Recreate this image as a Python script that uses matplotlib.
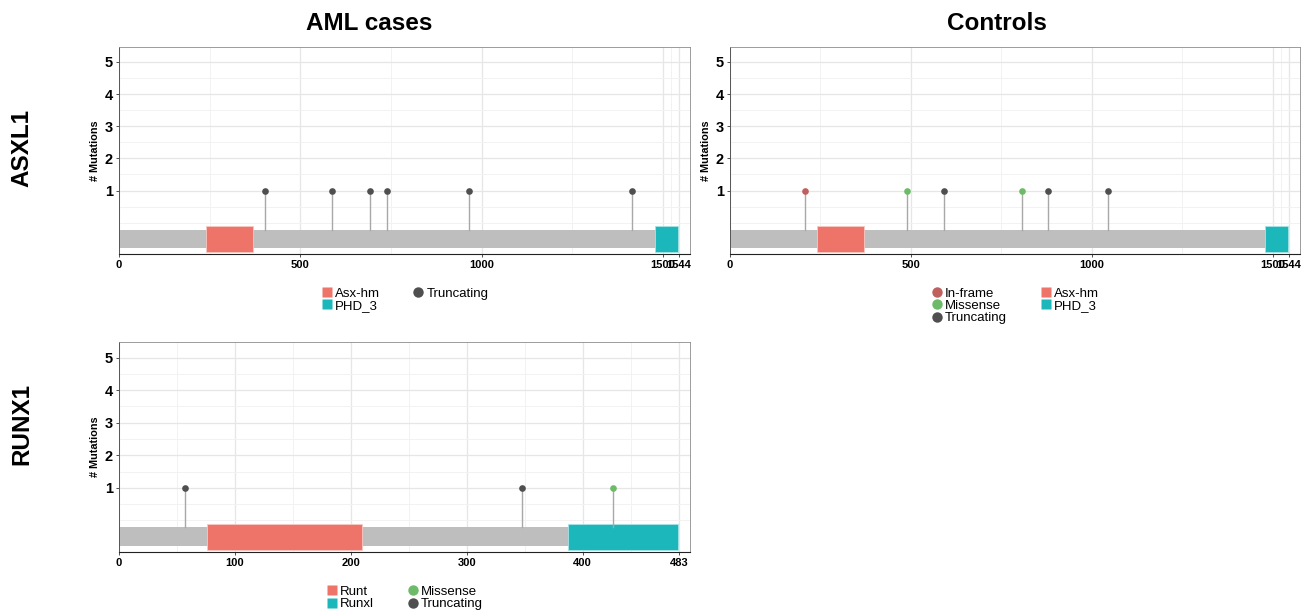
import matplotlib
matplotlib.use("Agg")
import matplotlib.pyplot as plt
from matplotlib.lines import Line2D
from matplotlib.patches import Rectangle

plt.rcParams['font.family'] = ['Liberation Sans', 'DejaVu Sans']

# ---- data ----
asxl1_length = 1544
asxl1_ticks = [0, 500, 1000, 1500, 1544]
asxl1_domains = ["Asx-hm", "PHD_3"]
asxl1_domain_start = [240, 1478]
asxl1_domain_end = [369, 1541]

aml_asxl1_pos = [403, 588, 693, 739, 964, 1415]
aml_asxl1_count = [1, 1, 1, 1, 1, 1]
aml_asxl1_type = ["Truncating"] * 6

ctrl_asxl1_pos = [208, 490, 592, 808, 879, 1045]
ctrl_asxl1_count = [1, 1, 1, 1, 1, 1]
ctrl_asxl1_type = ["In-frame", "Missense", "Truncating", "Missense", "Truncating", "Truncating"]

runx1_length = 483
runx1_ticks = [0, 100, 200, 300, 400, 483]
runx1_domains = ["Runt", "Runxl"]
runx1_domain_start = [76, 387]
runx1_domain_end = [210, 482]

aml_runx1_pos = [57, 348, 426]
aml_runx1_count = [1, 1, 1]
aml_runx1_type = ["Truncating", "Truncating", "Missense"]

y_ticks = [1, 2, 3, 4, 5]

# ---- styles ----
mut_colors = {"In-frame": "#C0605E", "Missense": "#6DBB69", "Truncating": "#4F4F4F"}
domain_colors = ["#EE7369", "#1CB7BA"]
W, H = 1304, 613


def ax_rect(x0, x1, y0, y1):
    return [x0 / W, 1 - y1 / H, (x1 - x0) / W, (y1 - y0) / H]


def draw_panel(fig, rect, length, ticks, dnames, dstart, dend, pos, cnt, types,
               legend_order):
    ax = fig.add_axes(rect)
    xmax = length * 1.02
    ax.set_xlim(0, xmax)
    ax.set_ylim(-0.97, 5.47)

    # grid
    major = list(ticks)
    minor = [(a + b) / 2 for a, b in zip(major[:-1], major[1:])]
    for xv in minor:
        ax.axvline(xv, color="#F2F2F2", lw=0.7, zorder=0)
    for xv in major:
        ax.axvline(xv, color="#E6E6E6", lw=0.9, zorder=0)
    for yv in [0, 0.5, 1.5, 2.5, 3.5, 4.5]:
        ax.axhline(yv, color="#F2F2F2", lw=0.7, zorder=0)
    for yv in y_ticks:
        ax.axhline(yv, color="#E6E6E6", lw=0.9, zorder=0)

    # protein backbone
    ax.add_patch(Rectangle((0, -0.79), length, 0.58, color="#BEBEBE", lw=0, zorder=2))
    # domains
    for i, (s, e) in enumerate(zip(dstart, dend)):
        ax.add_patch(Rectangle((s, -0.9), e - s, 0.8, facecolor=domain_colors[i],
                               edgecolor="#F7C9C4" if i == 0 else "#A9E3E4",
                               lw=0.6, zorder=3))
    # lollipops
    for p, c, t in zip(pos, cnt, types):
        ax.plot([p, p], [-0.21, c], color="#A8A8A8", lw=1.0, zorder=4)
        ax.plot(p, c, "o", color=mut_colors[t], ms=4.8, mec="none", zorder=5)

    ax.set_xticks(ticks)
    ax.set_xticklabels([str(t) for t in ticks], fontsize=8, fontweight="bold")
    ax.set_yticks(y_ticks)
    ax.set_yticklabels([str(t) for t in y_ticks], fontsize=10.5, fontweight="bold")
    ax.tick_params(length=2.5, width=0.6, color="#333333", pad=2)
    ax.set_ylabel("# Mutations", fontsize=7.8, fontweight="bold", labelpad=3)
    for side in ["top", "right"]:
        ax.spines[side].set_color("#8C8C8C")
        ax.spines[side].set_linewidth(0.6)
    ax.spines["left"].set_color("#555555")
    ax.spines["left"].set_linewidth(0.7)
    ax.spines["bottom"].set_color("#222222")
    ax.spines["bottom"].set_linewidth(0.8)

    # legend
    handles = []
    for kind, name in legend_order:
        if kind == "d":
            idx = dnames.index(name)
            handles.append(Line2D([], [], marker="s", ls="none", ms=7,
                                  color=domain_colors[idx], mec="none", label=name))
        else:
            handles.append(Line2D([], [], marker="o", ls="none", ms=7.5,
                                  color=mut_colors[name], mec="none", label=name))
    ax.legend(handles=handles, ncol=2, loc="upper center",
              bbox_to_anchor=(0.5, -0.13), frameon=False, fontsize=9.5,
              labelspacing=0.0, handletextpad=0.15, columnspacing=2.5,
              handlelength=0.9, borderpad=0)
    return ax


fig = plt.figure(figsize=(W / 100, H / 100), dpi=100)

ax1 = draw_panel(fig, ax_rect(119, 690, 46.7, 254), asxl1_length, asxl1_ticks,
                 asxl1_domains, asxl1_domain_start, asxl1_domain_end,
                 aml_asxl1_pos, aml_asxl1_count, aml_asxl1_type,
                 [("d", "Asx-hm"), ("d", "PHD_3"), ("m", "Truncating")])
ax2 = draw_panel(fig, ax_rect(730, 1300, 46.7, 254), asxl1_length, asxl1_ticks,
                 asxl1_domains, asxl1_domain_start, asxl1_domain_end,
                 ctrl_asxl1_pos, ctrl_asxl1_count, ctrl_asxl1_type,
                 [("m", "In-frame"), ("m", "Missense"), ("m", "Truncating"),
                  ("d", "Asx-hm"), ("d", "PHD_3")])
ax3 = draw_panel(fig, ax_rect(119, 690, 342.3, 552), runx1_length, runx1_ticks,
                 runx1_domains, runx1_domain_start, runx1_domain_end,
                 aml_runx1_pos, aml_runx1_count, aml_runx1_type,
                 [("d", "Runt"), ("d", "Runxl"), ("m", "Missense"), ("m", "Truncating")])

fig.text(369 / W, 1 - 24 / H, "AML cases", ha="center", va="center",
         fontsize=17.5, fontweight="bold")
fig.text(997 / W, 1 - 24 / H, "Controls", ha="center", va="center",
         fontsize=17.5, fontweight="bold")
fig.text(22 / W, 1 - 148 / H, "ASXL1", ha="center", va="center", rotation=90,
         fontsize=17.5, fontweight="bold")
fig.text(22 / W, 1 - 424 / H, "RUNX1", ha="center", va="center", rotation=90,
         fontsize=17.5, fontweight="bold")

fig.savefig("out.png", dpi=100)
